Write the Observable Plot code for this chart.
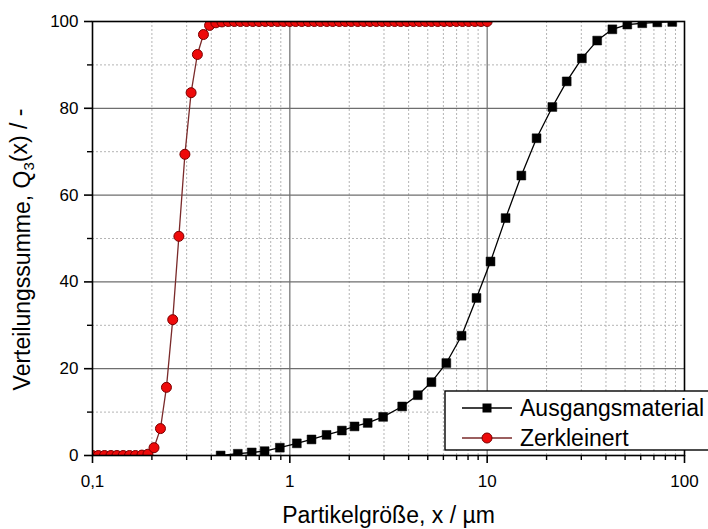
<!DOCTYPE html>
<html>
<head>
<meta charset="utf-8">
<script src="https://cdn.jsdelivr.net/npm/d3@7"></script>
<script src="https://cdn.jsdelivr.net/npm/@observablehq/plot@0.6"></script>
<style>
  html, body { margin: 0; padding: 0; background: white; }
</style>
</head>
<body>
<div id="chart"></div>
<script>
// ---- Data ----
const seriesNames = ["Ausgangsmaterial", "Zerkleinert"];

// Ausgangsmaterial (black squares)
const ausgangX = [0.446, 0.545, 0.641, 0.745, 0.890, 1.085, 1.288, 1.535, 1.835, 2.128, 2.48, 2.97, 3.71, 4.45, 5.22, 6.21, 7.42, 8.83, 10.4, 12.4, 14.9, 17.8, 21.4, 25.3, 30.2, 36.1, 43.1, 51.3, 61.1, 72.8, 86.7];
const ausgangY = [0, 0.4, 0.7, 1.0, 1.8, 2.8, 3.7, 4.75, 5.75, 6.7, 7.5, 8.9, 11.3, 13.9, 16.9, 21.3, 27.6, 36.3, 44.7, 54.7, 64.5, 73.1, 80.3, 86.2, 91.5, 95.6, 98.2, 99.3, 99.6, 99.8, 99.9];

// Zerkleinert (red circles)
const zerkX = [0.1, 0.107, 0.115, 0.124, 0.133, 0.143, 0.154, 0.165, 0.178, 0.191,
  0.205, 0.221, 0.237, 0.255, 0.274, 0.294, 0.316, 0.340, 0.365, 0.392,
  0.422, 0.453, 0.487, 0.523, 0.562, 0.604, 0.649, 0.698, 0.750, 0.806,
  0.866, 0.931, 1.0, 1.07, 1.15, 1.24, 1.33, 1.43, 1.54, 1.65,
  1.78, 1.91, 2.05, 2.21, 2.37, 2.55, 2.74, 2.94, 3.16, 3.40,
  3.65, 3.92, 4.22, 4.53, 4.87, 5.23, 5.62, 6.04, 6.49, 6.98,
  7.50, 8.06, 8.66, 9.31, 10.0];
const zerkY = [0, 0, 0, 0, 0, 0, 0, 0, 0.1, 0.3,
  1.8, 6.2, 15.7, 31.3, 50.5, 69.4, 83.6, 92.4, 97.0, 99.1,
  99.7, 99.9, 100, 100, 100, 100, 100, 100, 100, 100,
  100, 100, 100, 100, 100, 100, 100, 100, 100, 100,
  100, 100, 100, 100, 100, 100, 100, 100, 100, 100,
  100, 100, 100, 100, 100, 100, 100, 100, 100, 100,
  100, 100, 100, 100, 100];

// Ticks
const xMajor = [0.1, 1, 10, 100];
const xMinor = [0.2, 0.3, 0.4, 0.5, 0.6, 0.7, 0.8, 0.9, 2, 3, 4, 5, 6, 7, 8, 9, 20, 30, 40, 50, 60, 70, 80, 90];
const yMajor = [0, 20, 40, 60, 80, 100];
const yMinor = [10, 30, 50, 70, 90];
const xGridMajor = [1, 10];
const yGridMajor = [20, 40, 60, 80];

const xTitle = "Partikelgröße, x / µm";
const yTitle = "Verteilungssumme, Q3(x) / -";

// ---- Tables ----
const ausgang = ausgangX.map((x, i) => ({x, y: ausgangY[i]}));
const zerk = zerkX.map((x, i) => ({x, y: zerkY[i]}));

const FONT = "'Liberation Sans', Arial, Helvetica, sans-serif";
const RED_LINE = "#7a2a2a";
const RED_FILL = "#ee0a0a";
const RED_STROKE = "#7a0000";

const chart = Plot.plot({
  width: 708,
  height: 529,
  marginLeft: 92,
  marginRight: 24,
  marginTop: 21,
  marginBottom: 74,
  style: {fontFamily: FONT, fontSize: "17px", background: "white", color: "black", overflow: "visible"},
  x: {type: "log", domain: [0.1, 100], label: null},
  y: {domain: [0, 100], label: null},
  marks: [
    Plot.gridX(xMinor, {stroke: "#b4b4b4", strokeOpacity: 1, strokeDasharray: "2,2", strokeWidth: 1}),
    Plot.gridY(yMinor, {stroke: "#b4b4b4", strokeOpacity: 1, strokeDasharray: "2,2", strokeWidth: 1}),
    Plot.gridX(xGridMajor, {stroke: "#6e6e6e", strokeOpacity: 1, strokeWidth: 1.2}),
    Plot.gridY(yGridMajor, {stroke: "#6e6e6e", strokeOpacity: 1, strokeWidth: 1.2}),
    Plot.line(ausgang, {x: "x", y: "y", stroke: "black", strokeWidth: 1.3, clip: true}),
    Plot.dot(ausgang, {x: "x", y: "y", symbol: "square", r: 5, fill: "black", stroke: "black", strokeWidth: 0.5, clip: true}),
    Plot.line(zerk, {x: "x", y: "y", stroke: RED_LINE, strokeWidth: 1.3, clip: true}),
    Plot.dot(zerk, {x: "x", y: "y", symbol: "circle", r: 5, fill: RED_FILL, stroke: RED_STROKE, strokeWidth: 1, clip: true}),
    Plot.frame({stroke: "black", strokeWidth: 1.6}),
    Plot.axisX(xMajor, {tickSize: 8, tickPadding: 11, strokeWidth: 1.6, label: null, fontSize: 17,
      tickFormat: d => String(d).replace(".", ",")}),
    Plot.axisX(xMinor, {tickSize: 5, strokeWidth: 1.4, fill: "none", label: null}),
    Plot.axisY(yMajor, {tickSize: 8, tickPadding: 6, strokeWidth: 1.6, label: null, fontSize: 17}),
    Plot.axisY(yMinor, {tickSize: 5, strokeWidth: 1.4, fill: "none", label: null}),
    Plot.text([xTitle], {text: d => d, frameAnchor: "bottom", dy: 60, lineAnchor: "middle", textAnchor: "middle", fontSize: 23, fill: "black"}),
    Plot.text([yTitle], {text: d => d, frameAnchor: "left", dx: -70, dy: 11, rotate: -90, lineAnchor: "middle", textAnchor: "middle", fontSize: 23, fill: "black"})
  ]
});

// Subscript "3" in Q3(x)
d3.select(chart).selectAll("text").each(function() {
  if (this.textContent === yTitle) {
    const t = d3.select(this);
    t.text(null);
    t.append("tspan").text("Verteilungssumme, Q");
    t.append("tspan").attr("dy", "0.3em").attr("font-size", 15).text("3");
    t.append("tspan").attr("dy", "-0.3em").text("(x) / -");
  }
});

// Legend (inside the plot, bottom right)
const xs = chart.scale("x").range;
const ys = chart.scale("y").range;
const right = Math.max(...xs), bottom = Math.max(...ys);
const lg = d3.select(chart).append("g")
  .attr("font-family", FONT).attr("font-size", 23).attr("text-anchor", "start");
lg.append("rect")
  .attr("x", right - 239).attr("y", bottom - 64)
  .attr("width", 280).attr("height", 59)
  .attr("fill", "white").attr("stroke", "black").attr("stroke-width", 1.4);
const rows = [
  {name: seriesNames[0], line: "black", kind: "square"},
  {name: seriesNames[1], line: RED_LINE, kind: "circle"}
];
rows.forEach((r, i) => {
  const cy = bottom - 47 + i * 30;
  const x0 = right - 222, x1 = right - 172, cx = (x0 + x1) / 2;
  lg.append("line").attr("x1", x0).attr("x2", x1).attr("y1", cy).attr("y2", cy)
    .attr("stroke", r.line).attr("stroke-width", 1.3);
  if (r.kind === "square") {
    lg.append("rect").attr("x", cx - 4.5).attr("y", cy - 4.5).attr("width", 9).attr("height", 9).attr("fill", "black");
  } else {
    lg.append("circle").attr("cx", cx).attr("cy", cy).attr("r", 5).attr("fill", RED_FILL).attr("stroke", RED_STROKE);
  }
  lg.append("text").attr("x", right - 164).attr("y", cy).attr("dy", "0.35em")
    .attr("text-anchor", "start").attr("fill", "black").text(r.name);
});

document.getElementById("chart").appendChild(chart);
</script>
</body>
</html>
